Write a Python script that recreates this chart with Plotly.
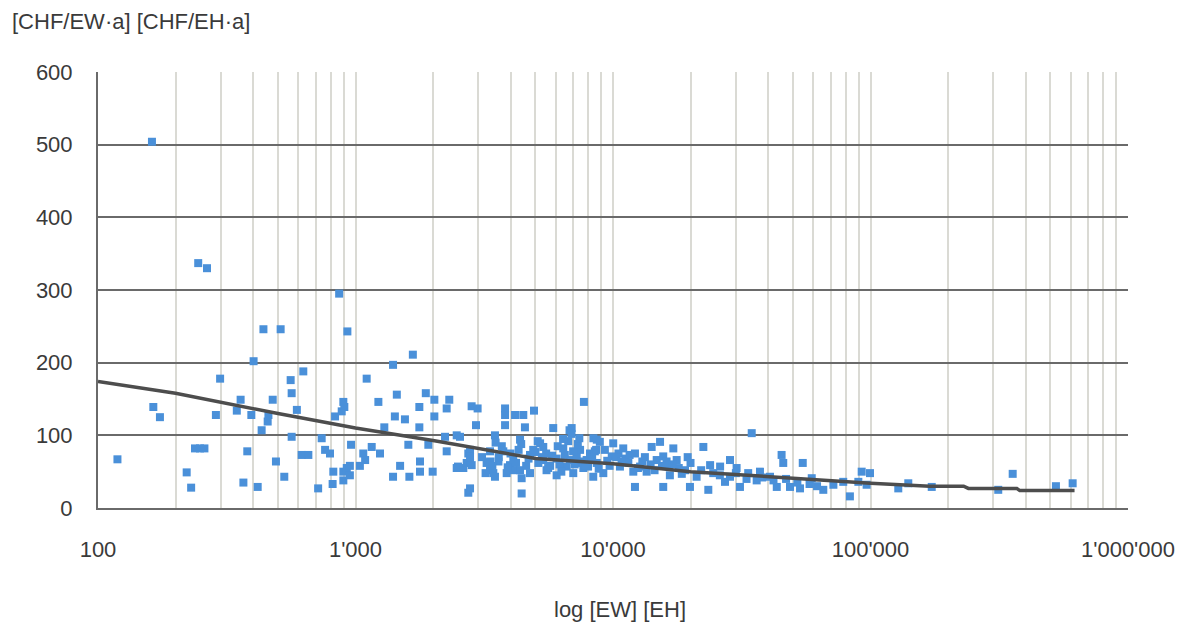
import plotly.graph_objects as go

# Scatter data: population equivalents [EW]/[EH] vs. cost [CHF/EW·a]
pop_x = [119, 162, 164, 174, 221, 230, 238, 249, 259, 245, 265, 287, 298, 346, 358, 367, 380, 394,
         402, 417, 432, 439, 456, 459, 477, 491, 512, 529, 560, 565, 565, 592, 618, 627, 656, 716,
         739, 762, 796, 815, 820, 833, 864, 884, 897, 905, 897, 897, 925, 930, 951, 951, 961, 1040,
         1072, 1090, 1105, 1156, 1227, 1245, 1294, 1399, 1399, 1422, 1447, 1490, 1556, 1604, 1619,
         1670, 1770, 1770, 1780, 1780, 1875, 1918, 1994, 2024, 2024, 2227, 2260, 2260, 2313, 2472,
         2472, 2500, 2546, 2623, 2703, 2742, 2742, 2785, 2785, 2785, 2785, 2825, 2826, 2938, 2980,
         3230, 3330, 3330, 3330, 3430, 3480, 3480, 3590, 3750, 3809, 3809, 3809, 3865, 3980, 4100,
         4100, 4165, 4355, 4355, 4418, 4418, 4484, 4550, 4760, 4760, 4934, 5130, 5210, 5360, 5360,
         5520, 5860, 6040, 6040, 6410, 6610, 6780, 6810, 6910, 7010, 7230, 7450, 7670, 7710, 8140,
         8380, 8390, 8650, 8650, 8890, 9170, 9890, 10020, 10640, 10960, 11470, 11990, 12170, 12170,
         12740, 13510, 14130, 14780, 15230, 15670, 15670, 16150, 16630, 17150, 17670, 19040, 19900,
         21120, 22430, 23450, 23830, 26060, 27220, 28470, 28470, 30200, 31120, 33500, 34570, 36140,
         37220, 40710, 43250, 45160, 45830, 48690, 53250, 54560, 59130, 65570, 71760, 78370, 83180,
         89700, 92420, 96600, 99540, 128200, 140200, 172900, 313400, 356600, 525000, 609600,
         3600, 4000, 4300, 4700, 5000, 5500, 5800, 6200, 6500, 7000, 7500, 7900, 8300, 9500, 10500,
         11200, 13000, 14000, 16500, 18000, 20000, 22000, 24500, 26000, 30000, 33000, 38000, 42000,
         47000, 52000, 58000, 62000,
         3100, 3400, 3700, 3900, 4200, 4600, 4900, 5300, 5700, 6100, 6300, 6700, 7100, 7300, 7700,
         8000, 8500, 8800, 9300, 9700, 10300, 10800, 11600, 12500, 13300, 14500, 15500, 17000,
         18500, 19500, 3200, 3500, 4400, 5100, 5600, 6400, 6900, 7400, 7800, 8600]
cost_y = [67, 504, 139, 125, 49, 28, 82, 82, 82, 337, 330, 128, 178, 134, 149, 35, 78, 128,
          202, 29, 107, 246, 119, 128, 149, 64, 246, 43, 176, 158, 98, 135, 73, 188, 73, 27,
          96, 80, 75, 33, 50, 126, 295, 133, 146, 139, 50, 38, 55, 243, 58, 45, 87, 58,
          75, 66, 178, 84, 146, 75, 111, 197, 43, 126, 156, 58, 122, 87, 43,
          211, 139, 111, 64, 50, 158, 87, 50, 149, 126, 98, 137, 78, 149, 100,
          55, 57, 98, 55, 62, 75, 21, 27, 80, 71, 62, 140, 59, 114, 137,
          62, 78, 64, 52, 48, 100, 43, 64, 78, 137, 128, 114, 48, 59, 66,
          52, 128, 94, 52, 41, 20, 128, 111, 73, 48, 134, 62, 89, 84, 66,
          52, 110, 68, 45, 82, 57, 107, 66, 110, 48, 71, 80, 55, 146, 75,
          43, 96, 62, 94, 91, 48, 71, 89, 57, 82, 62, 50, 29, 75,
          57, 50, 84, 66, 91, 71, 29, 64, 45, 82, 66, 52, 29,
          43, 84, 25, 59, 57, 36, 66, 43, 55, 29, 48, 103, 38,
          50, 43, 29, 73, 62, 29, 27, 62, 41, 25, 32, 36, 16,
          36, 50, 32, 48, 27, 34, 29, 25, 47, 30, 34,
          70, 75, 80, 68, 77, 75, 72, 60, 73, 78, 62, 66, 70, 65, 75,
          68, 64, 60, 58, 55, 62, 52, 48, 45, 48, 40, 42, 38,
          40, 35, 33, 30,
          70, 58, 85, 56, 62, 58, 80, 70, 58, 85, 50, 92, 60, 88, 64,
          57, 78, 54, 80, 58, 70, 64, 73, 55, 70, 52, 58, 60,
          47, 70, 48, 90, 88, 92, 55, 95, 102, 96, 58, 80]

# Trend line
trend_x = [100, 200, 500, 1000, 2000, 5000, 10000, 20000, 50000, 100000, 170000, 230000,
           240000, 370000, 380000, 620000]
trend_y = [174, 158, 130, 110, 93, 68, 61, 50, 41, 34, 30, 30, 27, 27, 24, 24]

x_tickvals = [m * 10 ** e for e in range(2, 6) for m in range(1, 10)] + [1000000]
decade_labels = {100: "100", 1000: "1'000", 10000: "10'000", 100000: "100'000", 1000000: "1'000'000"}
x_ticktext = [decade_labels.get(v, "") for v in x_tickvals]

y_tickvals = [0, 100, 200, 300, 400, 500, 600]

FONT = "Liberation Sans, Arial, sans-serif"
TXT = "#3a3a3a"

fig = go.Figure()
fig.add_trace(go.Scatter(
    x=pop_x, y=cost_y, mode="markers",
    marker=dict(symbol="square", size=8, color="#4a90d9", line=dict(width=0)),
    showlegend=False, hoverinfo="x+y",
))
fig.add_trace(go.Scatter(
    x=trend_x, y=trend_y, mode="lines",
    line=dict(color="#4d4d4d", width=3.5),
    showlegend=False, hoverinfo="skip",
))

# page body adds an 8px offset; margins compensate so the plot sits at 98..1128 / 72..508
fig.update_layout(
    width=1186, height=629,
    margin=dict(l=90, r=66, t=64, b=129, autoexpand=False),
    paper_bgcolor="white", plot_bgcolor="white",
    font=dict(family=FONT, size=22, color=TXT),
    xaxis=dict(
        type="log", range=[2, 6],
        tickmode="array", tickvals=x_tickvals, ticktext=x_ticktext,
        showgrid=True, gridcolor="#dadad4", gridwidth=2,
        showline=True, linecolor="#6a6a6a", linewidth=2,
        ticks="", ticklabelstandoff=21,
        zeroline=False, automargin=False,
    ),
    yaxis=dict(
        range=[0, 600], tickmode="array", tickvals=y_tickvals,
        showgrid=True, gridcolor="#6a6a6a", gridwidth=2,
        showline=True, linecolor="#6a6a6a", linewidth=2,
        ticks="", ticklabelstandoff=19,
        zeroline=False, automargin=False,
    ),
    annotations=[
        dict(text="[CHF/EW·a] [CHF/EH·a]", xref="paper", yref="paper",
             x=-0.0854, y=1.115, xanchor="left", yanchor="middle", showarrow=False,
             font=dict(size=22, family=FONT, color=TXT)),
        dict(text="log [EW] [EH]", xref="paper", yref="paper",
             x=0.507, y=-0.2317, xanchor="center", yanchor="middle", showarrow=False,
             font=dict(size=22, family=FONT, color=TXT)),
    ],
)

fig.write_html("out.html")
